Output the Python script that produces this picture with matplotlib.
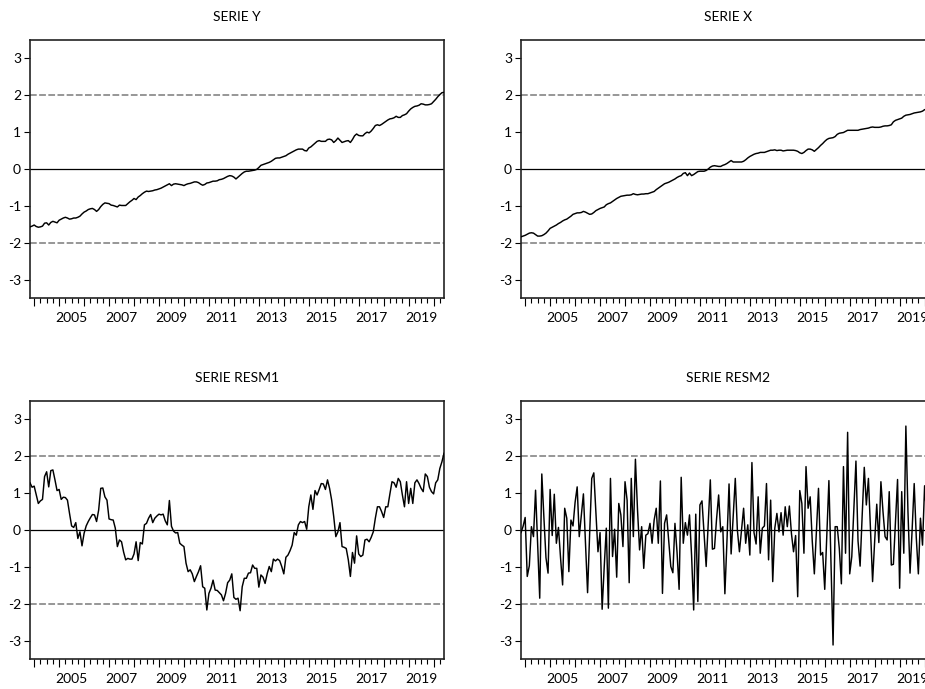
import numpy as np
import matplotlib
matplotlib.use("Agg")
import matplotlib.pyplot as plt

# ---------------- data (monthly, 2003M11 .. 2020M06) ----------------
start_year = 2003
start_month = 11
n_obs = 200

serie_y = [
    -1.57, -1.55, -1.52, -1.56, -1.58, -1.57, -1.55, -1.47, -1.46, -1.52,
    -1.45, -1.42, -1.44, -1.46, -1.39, -1.36, -1.33, -1.31, -1.33, -1.36,
    -1.35, -1.33, -1.33, -1.31, -1.28, -1.22, -1.17, -1.14, -1.10, -1.08,
    -1.07, -1.10, -1.15, -1.10, -1.02, -0.96, -0.92, -0.93, -0.94, -0.98,
    -0.99, -1.01, -1.03, -0.98, -0.99, -0.99, -0.99, -0.94, -0.89, -0.85,
    -0.80, -0.83, -0.76, -0.72, -0.67, -0.63, -0.60, -0.61, -0.60, -0.59,
    -0.57, -0.56, -0.54, -0.52, -0.49, -0.46, -0.43, -0.40, -0.45, -0.41,
    -0.40, -0.41, -0.42, -0.43, -0.45, -0.42, -0.40, -0.39, -0.37, -0.35,
    -0.35, -0.37, -0.41, -0.44, -0.42, -0.38, -0.37, -0.35, -0.33, -0.33,
    -0.32, -0.29, -0.28, -0.26, -0.23, -0.20, -0.18, -0.19, -0.22, -0.27,
    -0.22, -0.17, -0.12, -0.08, -0.06, -0.06, -0.05, -0.04, -0.03, -0.01,
    0.04, 0.10, 0.12, 0.14, 0.16, 0.18, 0.21, 0.25, 0.29, 0.30,
    0.30, 0.32, 0.34, 0.36, 0.40, 0.43, 0.46, 0.49, 0.52, 0.54,
    0.54, 0.54, 0.50, 0.49, 0.57, 0.60, 0.65, 0.70, 0.75, 0.77,
    0.75, 0.75, 0.75, 0.80, 0.81, 0.79, 0.72, 0.77, 0.84, 0.78,
    0.72, 0.74, 0.76, 0.77, 0.72, 0.80, 0.90, 0.95, 0.91, 0.90,
    0.90, 0.96, 1.00, 0.98, 1.03, 1.10, 1.18, 1.20, 1.18, 1.21,
    1.25, 1.29, 1.33, 1.36, 1.37, 1.39, 1.43, 1.40, 1.40, 1.45,
    1.47, 1.50, 1.57, 1.63, 1.67, 1.70, 1.71, 1.73, 1.77, 1.76,
    1.74, 1.74, 1.75, 1.77, 1.83, 1.89, 1.96, 2.02, 2.07, 2.08,
]

serie_x = [
    -1.84, -1.82, -1.80, -1.77, -1.74, -1.73, -1.74, -1.78, -1.82, -1.82,
    -1.81, -1.78, -1.74, -1.68, -1.61, -1.58, -1.55, -1.52, -1.48, -1.45,
    -1.41, -1.38, -1.36, -1.32, -1.28, -1.23, -1.21, -1.19, -1.19, -1.18,
    -1.15, -1.17, -1.20, -1.23, -1.22, -1.18, -1.13, -1.10, -1.07, -1.05,
    -1.03, -0.97, -0.94, -0.92, -0.88, -0.84, -0.80, -0.77, -0.74, -0.73,
    -0.72, -0.71, -0.71, -0.70, -0.67, -0.69, -0.70, -0.69, -0.68, -0.68,
    -0.67, -0.67, -0.65, -0.63, -0.61, -0.56, -0.52, -0.48, -0.44, -0.40,
    -0.38, -0.36, -0.33, -0.30, -0.27, -0.23, -0.20, -0.18, -0.12, -0.10,
    -0.18, -0.11, -0.18, -0.15, -0.11, -0.07, -0.06, -0.06, -0.06, -0.04,
    0.00, 0.05, 0.08, 0.09, 0.08, 0.07, 0.07, 0.10, 0.12, 0.15,
    0.19, 0.23, 0.19, 0.19, 0.19, 0.19, 0.19, 0.21, 0.25, 0.30,
    0.34, 0.37, 0.40, 0.42, 0.43, 0.45, 0.45, 0.45, 0.47, 0.49,
    0.51, 0.51, 0.52, 0.50, 0.51, 0.51, 0.49, 0.50, 0.51, 0.51,
    0.51, 0.51, 0.50, 0.48, 0.44, 0.42, 0.45, 0.50, 0.54, 0.54,
    0.52, 0.48, 0.53, 0.58, 0.64, 0.69, 0.75, 0.80, 0.83, 0.84,
    0.85, 0.88, 0.94, 0.97, 0.98, 0.99, 1.02, 1.05, 1.05, 1.05,
    1.05, 1.05, 1.05, 1.07, 1.08, 1.09, 1.10, 1.11, 1.13, 1.14,
    1.13, 1.13, 1.13, 1.14, 1.16, 1.17, 1.17, 1.18, 1.20, 1.28,
    1.32, 1.34, 1.36, 1.38, 1.43, 1.46, 1.47, 1.48, 1.50, 1.52,
    1.53, 1.54, 1.55, 1.57, 1.61, 1.62, 1.64, 1.65, 1.66, 1.68,
]

serie_resm1 = [
    1.28, 1.16, 1.19, 0.95, 0.72, 0.79, 0.83, 1.45, 1.58, 1.17,
    1.61, 1.63, 1.36, 1.07, 1.10, 0.83, 0.89, 0.88, 0.81, 0.45,
    0.11, 0.07, 0.20, -0.23, -0.05, -0.43, -0.09, 0.11, 0.23, 0.33,
    0.42, 0.41, 0.23, 0.54, 1.13, 1.14, 0.90, 0.81, 0.30, 0.28,
    0.27, 0.05, -0.45, -0.27, -0.32, -0.60, -0.81, -0.77, -0.79, -0.79,
    -0.65, -0.32, -0.83, -0.34, -0.38, 0.14, 0.18, 0.32, 0.42, 0.20,
    0.32, 0.38, 0.43, 0.41, 0.43, 0.25, 0.14, 0.80, 0.10, -0.03,
    -0.08, -0.07, -0.36, -0.41, -0.45, -0.90, -1.13, -1.08, -1.19, -1.40,
    -1.26, -1.13, -0.97, -1.54, -1.58, -2.17, -1.72, -1.58, -1.36, -1.63,
    -1.64, -1.70, -1.76, -1.92, -1.72, -1.43, -1.36, -1.19, -1.83, -1.88,
    -1.85, -2.19, -1.54, -1.31, -1.31, -1.17, -1.16, -0.95, -1.04, -1.04,
    -1.55, -1.22, -1.28, -1.45, -1.19, -0.99, -1.13, -0.79, -0.84, -0.79,
    -0.83, -0.99, -1.19, -0.74, -0.68, -0.56, -0.41, -0.07, -0.14, 0.14,
    0.23, 0.20, 0.23, 0.02, 0.63, 0.95, 0.56, 1.07, 0.95, 1.10,
    1.26, 1.25, 1.10, 1.36, 1.13, 0.81, 0.36, -0.18, -0.05, 0.20,
    -0.45, -0.47, -0.50, -0.81, -1.26, -0.61, -0.90, -0.16, -0.65, -0.72,
    -0.68, -0.27, -0.25, -0.32, -0.20, -0.05, 0.32, 0.63, 0.63, 0.50,
    0.34, 0.63, 0.63, 0.98, 1.31, 1.28, 1.16, 1.40, 1.31, 0.95,
    0.63, 1.31, 0.72, 1.13, 0.72, 1.28, 1.36, 1.26, 1.13, 1.04,
    1.52, 1.45, 1.16, 1.04, 0.98, 1.28, 1.36, 1.67, 1.85, 2.08,
]

serie_resm2 = [
    -0.07, 0.10, 0.34, -1.26, -0.97, 0.09, -0.18, 1.08, -0.38, -1.85,
    1.52, 0.35, -0.75, -1.17, 1.10, -0.15, 0.97, -0.36, 0.07, -0.75,
    -1.49, 0.59, 0.32, -1.13, 0.27, 0.11, 0.75, 1.17, -0.18, 0.40,
    0.98, -0.35, -1.70, -0.10, 1.40, 1.55, 0.50, -0.59, -0.07, -2.15,
    -1.00, 0.05, -2.12, 1.40, -0.72, 0.02, -1.28, 0.72, 0.41, -0.45,
    1.31, 0.81, -1.43, 1.40, -0.18, 1.92, 0.55, -0.54, 0.09, -1.04,
    -0.14, -0.10, 0.18, -0.36, 0.27, 0.59, -0.36, 1.33, -1.72, 0.18,
    0.41, -0.30, -0.99, -1.16, 0.18, -0.60, -1.61, 1.43, -0.36, 0.20,
    -0.14, 0.41, -0.70, -2.17, 0.43, -1.94, 0.68, 0.79, -0.10, -0.99,
    0.20, 1.36, -0.52, -0.50, 0.30, 0.95, -0.05, 0.09, -1.73, -0.30,
    1.25, -0.65, 0.40, 1.40, 0.00, -0.59, 0.00, 0.59, -0.36, 0.14,
    -0.68, 1.83, -0.07, -0.38, 0.90, -0.63, 0.05, 0.11, 1.26, -0.81,
    0.81, -1.40, 0.05, 0.45, -0.05, 0.47, -0.14, 0.63, 0.09, 0.65,
    -0.10, -0.59, -0.15, -1.81, 1.07, 0.72, -0.63, 1.72, 0.59, 0.90,
    -0.30, -1.19, 0.00, 1.13, -0.68, -0.61, -1.61, -0.10, 1.34, -0.90,
    -3.12, 0.09, 0.09, -0.50, -1.46, 1.72, -0.63, 2.65, -1.19, -0.72,
    0.60, 1.87, -0.30, -0.98, 0.40, 1.70, 0.68, 1.40, 0.00, -1.40,
    -0.30, 0.70, -0.34, 1.31, 0.50, -0.18, -0.27, 1.04, -0.95, -0.93,
    0.20, 1.37, -1.58, 1.04, -0.63, 2.82, 0.50, -1.17, 0.00, 1.26,
    -0.20, -1.19, 0.32, -0.41, 1.20, 0.40, -0.50, 0.70, -0.20, 0.30,
]

titles = ["SERIE Y", "SERIE X", "SERIE RESM1", "SERIE RESM2"]
series = [serie_y, serie_x, serie_resm1, serie_resm2]
y_ticks = [-3, -2, -1, 0, 1, 2, 3]
band = 2.0
label_years = list(range(2005, 2021, 2))

# ---------------- figure ----------------
plt.rcParams['font.family'] = ['Lato', 'DejaVu Sans']
W, H = 925, 689
fig = plt.figure(figsize=(W / 100, H / 100), dpi=100)

t = start_year + (start_month - 1) / 12 + np.arange(n_obs) / 12.0

# axes boxes in pixels: (left, top, right, bottom)
boxes = [(30, 40, 444, 298), (521, 40, 935, 298),
         (30, 401, 444, 659), (521, 401, 935, 659)]

for title, vals, (l, tp, r, b) in zip(titles, series, boxes):
    ax = fig.add_axes([l / W, 1 - b / H, (r - l) / W, (b - tp) / H])
    v = np.asarray(vals, dtype=float)
    n = min(len(v), len(t))
    ax.axhline(0, color='black', lw=0.9, zorder=2)
    for s in (band, -band):
        ax.axhline(s, color='#7a7a7a', lw=1.1, ls=(0, (4.4, 1.6)), zorder=2)
    ax.plot(t[:n], v[:n], color='black', lw=1.05, zorder=3)

    ax.set_xlim(t[0], t[-1])
    ax.set_ylim(-3.5, 3.5)
    ax.set_yticks(y_ticks)
    ax.set_yticklabels([str(k) for k in y_ticks])
    ax.tick_params(axis='y', direction='out', length=4, width=0.8,
                   pad=2.5, labelsize=10, colors='black')

    years = [yy for yy in range(2004, 2021) if t[0] <= yy <= t[-1]]
    ax.set_xticks(years)
    ax.set_xticklabels([''] * len(years))
    quarters = []
    qlabels = []
    for yy in range(2003, 2021):
        for q in range(4):
            p = yy + q / 4
            if t[0] <= p <= t[-1] and q != 0:
                quarters.append(p)
                qlabels.append(str(yy) if (q == 2 and yy in label_years) else '')
    ax.set_xticks(quarters, minor=True)
    ax.set_xticklabels(qlabels, minor=True)
    ax.tick_params(axis='x', which='major', direction='out', length=5.5,
                   width=0.8, colors='black')
    ax.tick_params(axis='x', which='minor', direction='out', length=3.5,
                   width=0.8, pad=6.5, labelsize=10, colors='black')
    for sp in ax.spines.values():
        sp.set_linewidth(1.2)
        sp.set_color('#222222')
    ax.set_title(title, fontsize=10, pad=14)

fig.savefig('out.png', dpi=100)
